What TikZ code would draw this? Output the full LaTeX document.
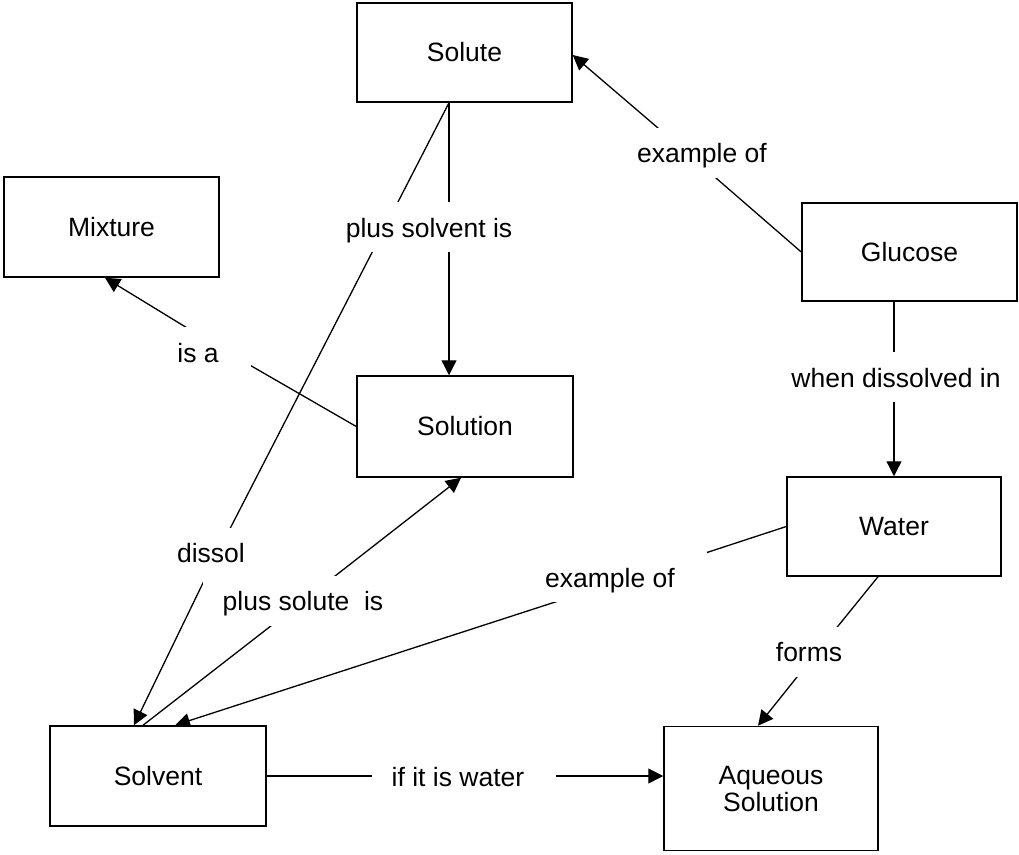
\documentclass[tikz,border=0pt]{standalone}
\usepackage{fontspec}
\setmainfont{Liberation Sans}
\usetikzlibrary{arrows.meta,backgrounds}
\begin{document}
\begin{tikzpicture}[x=1pt,y=-1pt,
  concept/.style={draw, line width=1.5pt, fill=white, inner sep=0pt, align=center,
    font=\fontsize{26.5pt}{27pt}\selectfont},
  lbl/.style={fill=white, inner xsep=20pt, inner ysep=12.5pt, text height=22.5pt, text depth=2.5pt,
    font=\fontsize{26.5pt}{30pt}\selectfont},
  conn/.style={line width=1.3pt},
  arr/.style={conn, -{Triangle[length=15pt,width=15pt]}}]
\useasboundingbox (0,0) rectangle (1019,854);
% concepts
\node[concept, minimum width=215pt, minimum height=99pt] (solute) at (464.5,52.5) {Solute};
\node[concept, minimum width=215pt, minimum height=100pt] (mixture) at (111.5,227) {Mixture};
\node[concept, minimum width=215pt, minimum height=98pt] (glucose) at (909.5,252) {Glucose};
\node[concept, minimum width=216pt, minimum height=101pt] (solution) at (465,426.5) {Solution};
\node[concept, minimum width=214pt, minimum height=99pt] (water) at (894,526.5) {Water};
\node[concept, minimum width=216pt, minimum height=100pt] (solvent) at (158,776) {Solvent};
\node[concept, minimum width=214pt, minimum height=124pt] (aqueous) at (771,788.5) {Aqueous\\Solution};
% linking phrases
\node[lbl] (psi) at (435,227) {plus solvent is\kern12pt};
\node[lbl] (dis) at (217,552.5) {dissol\kern12pt};
\node[lbl] (isa) at (204,352) {is a\kern12pt};
\node[lbl] (psu) at (309,600.5) {plus solute\ \ is\kern12pt};
\node[lbl] (ex2) at (616,577) {example of\kern12pt};
\node[lbl] (wdi) at (902,377) {when dissolved in\kern12pt};
\node[lbl] (frm) at (815,651.5) {forms\kern12pt};
\node[lbl] (iw) at (464,776) {if it is water\kern12pt};
\node[lbl] (ex1) at (708,152.5) {example of\kern12pt};
% connector bend points (hidden under the phrases)
\coordinate (c-dis) at (218,552);
\coordinate (c-isa) at (215,345);
\coordinate (c-psu) at (303,601);
\coordinate (c-ex2) at (620,581);
\coordinate (c-wdi) at (894,377);
\coordinate (c-frm) at (817,652);
\coordinate (c-iw) at (464,776);
\coordinate (c-ex1) at (686,152);
\begin{scope}[on background layer]
\draw[arr] ([xshift=-15.5pt]solute.south) -- ([xshift=-16pt]solution.north);
\draw[arr] ([xshift=-15.5pt]solute.south) -- (c-dis) -- ([xshift=-24pt]solvent.north);
\draw[arr] (solution.west) -- (c-isa) -- ([xshift=-6.5pt]mixture.south);
\draw[arr] ([xshift=-15pt]solvent.north) -- (c-psu) -- ([xshift=-4pt]solution.south);
\draw[arr] (water.west) -- (c-ex2) -- ([xshift=17pt]solvent.north);
\draw[arr] ([xshift=-15.5pt]glucose.south) -- (c-wdi) -- (water.north);
\draw[arr] ([xshift=-16pt]water.south) -- (c-frm) -- ([xshift=-13pt]aqueous.north);
\draw[arr] (solvent.east) -- (c-iw) -- ([yshift=12.5pt]aqueous.west);
\draw[arr] (glucose.west) -- (c-ex1) -- ([yshift=-2.5pt]solute.east);
\end{scope}
\end{tikzpicture}
\end{document}
